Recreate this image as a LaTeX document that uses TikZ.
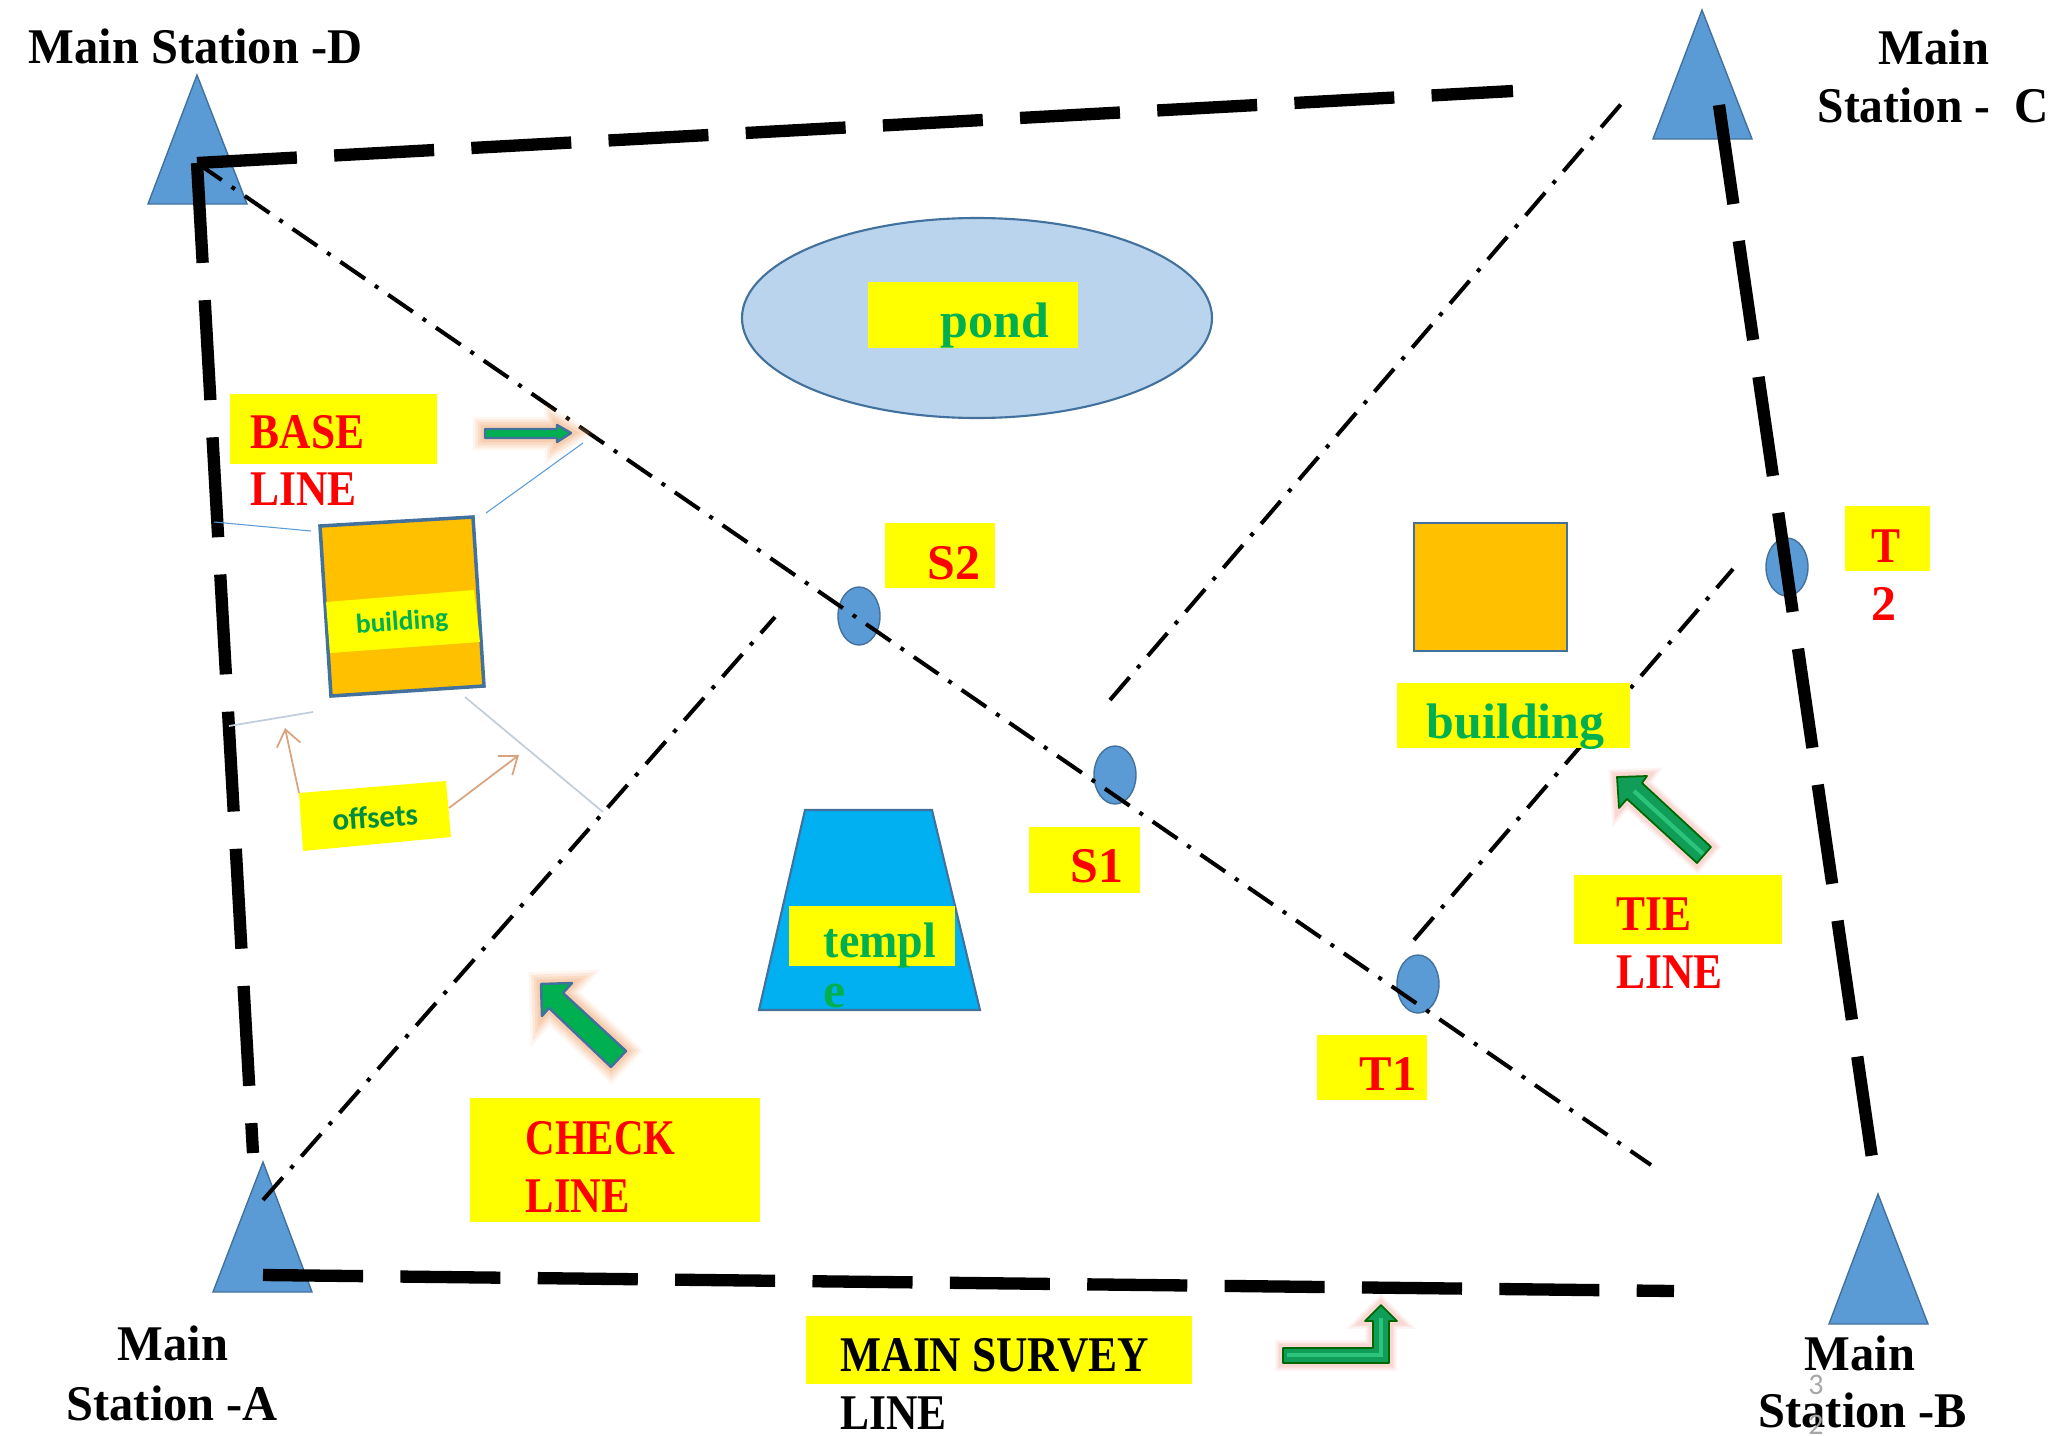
\documentclass[tikz,border=0pt]{standalone}
\usepackage{fontspec}
\usetikzlibrary{arrows.meta}
\newfontfamily\stationfont[FakeStretch=0.97]{Liberation Serif}
\newfontfamily\capsfont[FakeStretch=0.87]{Liberation Serif}
\newfontfamily\plantfont{Liberation Serif}
\newfontfamily\smallfont{Carlito}
\definecolor{markblue}{HTML}{5B9BD5}
\definecolor{markedge}{HTML}{41719C}
\definecolor{pondblue}{HTML}{B9D4EC}
\definecolor{labelyellow}{HTML}{FFFF00}
\definecolor{plantgreen}{HTML}{00B050}
\definecolor{houseorange}{HTML}{FFC000}
\definecolor{templeblue}{HTML}{00B0F0}
\definecolor{offsettan}{HTML}{D9A37E}
\definecolor{offsetgray}{HTML}{C4CEDA}
\definecolor{glowtan}{HTML}{F4B183}
\definecolor{glowpink}{HTML}{F2A9A0}
\definecolor{tiegreen}{HTML}{0F9D58}
\definecolor{tielight}{HTML}{2BC47A}
\tikzset{
  station/.style={fill=markblue, draw=markedge, line width=0.4pt},
  mainline/.style={line width=3.5pt, dash pattern=on 1.00cm off 0.373cm},
  surveyline/.style={line width=1.15pt, dash pattern=on 0.30cm off 0.12cm on 0.04cm off 0.12cm},
  peg/.style={fill=markblue, draw=markedge, line width=0.4pt},
  house/.style={fill=houseorange, draw=markedge},
  labelbox/.style={fill=labelyellow},
  blacktext/.style={inner sep=0pt, anchor=base west, font=\stationfont\bfseries\fontsize{14.2}{17}\selectfont},
  capstext/.style={inner sep=0pt, anchor=base west, font=\capsfont\bfseries\fontsize{14.2}{17}\selectfont},
  redtext/.style={capstext, text=red},
  greentext/.style={inner sep=0pt, anchor=base west, text=plantgreen, font=\plantfont\bfseries\fontsize{14.2}{17}\selectfont},
  offsetarrow/.style={draw=offsettan, line width=0.5pt, -{Straight Barb[length=1.6mm,width=2.4mm]}},
  blockblue/.style={fill=plantgreen, draw=markedge, line width=0.7pt, line join=round,
    preaction={draw=glowtan, line width=7pt, opacity=0.12},
    preaction={draw=glowtan, line width=5.5pt, opacity=0.18},
    preaction={draw=glowtan, line width=4pt, opacity=0.25},
    preaction={draw=glowtan, line width=2.5pt, opacity=0.3}},
  blockgreen/.style={fill=tiegreen, draw=black!60!green, line width=0.5pt, line join=round,
    preaction={draw=glowpink, line width=4.5pt, opacity=0.12},
    preaction={draw=glowpink, line width=3.5pt, opacity=0.18},
    preaction={draw=glowpink, line width=2.5pt, opacity=0.25}},
  blocklight/.style={draw=tielight, line width=1.2pt}
}
\begin{document}
\begin{tikzpicture}[x=0.01cm, y=-0.01cm]
  \useasboundingbox (0,0) rectangle (2059,1436);
  % stations
  \draw[station] (197,75) -- (148,204) -- (247,204) -- cycle;
  \draw[station] (1702,10) -- (1653,139) -- (1752,139) -- cycle;
  \draw[station] (263,1162) -- (213,1292) -- (312,1292) -- cycle;
  \draw[station] (1878,1194) -- (1829,1324) -- (1928,1324) -- cycle;
  % pegs on the survey lines
  \draw[peg] (859,616) ellipse (21 and 29);
  \draw[peg] (1115,775) ellipse (21 and 29);
  \draw[peg] (1418,984) ellipse (21 and 29);
  \draw[peg] (1787,567) ellipse (21 and 29);
  % survey lines
  \coordinate (cornerD) at (197,163);
  \coordinate (topEnd) at (1513,91);
  \coordinate (leftEnd) at (253,1153);
  \coordinate (bottomStart) at (263,1275);
  \coordinate (bottomEnd) at (1674,1291);
  \coordinate (rightStart) at (1719,105);
  \coordinate (rightEnd) at (1872,1158);
  \draw[mainline] (cornerD) -- (topEnd);
  \draw[mainline] (cornerD) -- (leftEnd);
  \draw[mainline] (bottomStart) -- (bottomEnd);
  \draw[mainline] (rightStart) -- (rightEnd);
  \coordinate (baseEnd) at (1651,1165);
  \coordinate (checkStart) at (263,1200);
  \coordinate (checkEnd) at (775,617);
  \coordinate (crossStart) at (1110,700);
  \coordinate (crossEnd) at (1628,96);
  \coordinate (tieStart) at (1414,940);
  \coordinate (tieEnd) at (1733,569);
  \draw[surveyline] (cornerD) -- (baseEnd);
  \draw[surveyline] (checkStart) -- (checkEnd);
  \draw[surveyline] (crossStart) -- (crossEnd);
  \draw[surveyline] (tieStart) -- (tieEnd);
  % pond
  \draw[fill=pondblue, draw=markedge, line width=0.6pt] (977,318) ellipse (235 and 100);
  \fill[labelbox] (868,282) rectangle (1078,348);
  \node[greentext] (pond) at (940,337) {pond};
  % building on the left with offsets
  \draw[house, line width=1pt] (320,526) -- (473,517) -- (484,686) -- (331,696) -- cycle;
  \fill[labelbox] (326,602) -- (474,590) -- (480,642) -- (330,653) -- cycle;
  \node[rotate=4, text=plantgreen, font=\smallfont\bfseries\fontsize{7.8}{9}\selectfont] (smallbuilding) at (402,623) {building};
  \draw[markblue, line width=0.3pt] (214,522) -- (311,531);
  \draw[markblue, line width=0.3pt] (486,513) -- (583,443);
  \draw[offsetgray, line width=0.5pt] (229,726) -- (313,712);
  \draw[offsetgray, line width=0.5pt] (465,697) -- (603,812);
  \fill[labelbox] (299,793) -- (446,781) -- (451,837) -- (303,851) -- cycle;
  \node[rotate=4, text=plantgreen!80!black, font=\smallfont\bfseries\fontsize{8.8}{10}\selectfont] (offsets) at (375,817) {offsets};
  \coordinate (offsetLeft) at (285,728);
  \coordinate (offsetRight) at (519,755);
  \coordinate (offsetFromLeft) at (299,793);
  \coordinate (offsetFromRight) at (449,808);
  \draw[offsetarrow] (offsetFromLeft) -- (offsetLeft);
  \draw[offsetarrow] (offsetFromRight) -- (offsetRight);
  % building on the right
  \draw[house, line width=0.6pt] (1414,523) rectangle (1567,651);
  \fill[labelbox] (1397,683) rectangle (1630,748);
  \node[greentext] (building) at (1426,738) {building};
  % temple
  \draw[fill=templeblue, draw=markedge, line width=0.6pt] (805,810) -- (932,810) -- (980,1010) -- (759,1010) -- cycle;
  \fill[labelbox] (789,906) rectangle (955,966);
  \node[greentext] (templeone) at (823,957) {\scalebox{0.92}[1]{templ}};
  \node[greentext] (templetwo) at (823,1007) {e};
  % block arrows
  \draw[blockblue] (485,429) -- (557,429) -- (557,425) -- (571,433) -- (557,442) -- (557,438) -- (485,438) -- cycle;
  \draw[blockblue] (541,984) -- (572,983) -- (563,993) -- (626,1051) -- (611,1067) -- (549,1008) -- (542,1016) -- cycle;
  \draw[blockgreen] (1617,777) -- (1647,776) -- (1642,783) -- (1711,847) -- (1697,863) -- (1627,799) -- (1619,808) -- cycle;
  \draw[blocklight] (1703,854) -- (1634,791);
  \draw[blockgreen] (1283,1348) -- (1373,1348) -- (1373,1321) -- (1365,1321) -- (1381,1305) -- (1397,1321) -- (1389,1321) -- (1389,1363) -- (1283,1363) -- cycle;
  \draw[blocklight] (1287,1355) -- (1381,1355) -- (1381,1318);
  % labels
  \fill[labelbox] (230,394) rectangle (437,464);
  \node[redtext] (baseone) at (250,448) {BASE};
  \node[redtext] (basetwo) at (250,505) {LINE};
  \fill[labelbox] (885,523) rectangle (995,588);
  \node[redtext] (stwo) at (927,579) {\scalebox{1.15}[1]{S2}};
  \fill[labelbox] (1029,827) rectangle (1140,893);
  \node[redtext] (sone) at (1070,882) {\scalebox{1.15}[1]{S1}};
  \fill[labelbox] (1317,1035) rectangle (1427,1100);
  \node[redtext] (tone) at (1359,1090) {\scalebox{1.12}[1]{T1}};
  \fill[labelbox] (1845,506) rectangle (1930,571);
  \node[redtext] (ttwoa) at (1871,562) {T};
  \node[redtext] (ttwob) at (1871,620) {\scalebox{1.15}[1]{2}};
  \fill[labelbox] (1574,875) rectangle (1782,944);
  \node[redtext] (tieone) at (1616,930) {TIE};
  \node[redtext] (tietwo) at (1616,988) {LINE};
  \fill[labelbox] (470,1098) rectangle (760,1222);
  \node[redtext] (checkone) at (525,1154) {\scalebox{0.94}[1]{CHECK}};
  \node[redtext] (checktwo) at (525,1212) {\scalebox{0.98}[1]{LINE}};
  \fill[labelbox] (806,1316) rectangle (1192,1384);
  \node[capstext] (mainone) at (840,1371) {MAIN SURVEY};
  \node[capstext] (maintwo) at (840,1429) {LINE};
  % station names
  \node[blacktext] (namedone) at (28,63) {Main Station -D};
  \node[blacktext] (namecone) at (1878,64) {Main};
  \node[blacktext] (namectwo) at (1817,122) {\scalebox{0.98}[1]{Station -\ \ C}};
  \node[blacktext] (nameaone) at (117,1360) {Main};
  \node[blacktext] (nameatwo) at (66,1420) {Station -A};
  \node[blacktext] (namebone) at (1804,1370) {Main};
  \node[blacktext] (namebtwo) at (1758,1427) {Station -B};
  % page number
  \node[inner sep=0pt, text=black!35, font=\smallfont\fontsize{8.5}{10}\selectfont] (pageone) at (1816,1385) {3};
  \node[inner sep=0pt, text=black!35, font=\smallfont\fontsize{8.5}{10}\selectfont] (pagetwo) at (1816,1425) {2};
\end{tikzpicture}
\end{document}
